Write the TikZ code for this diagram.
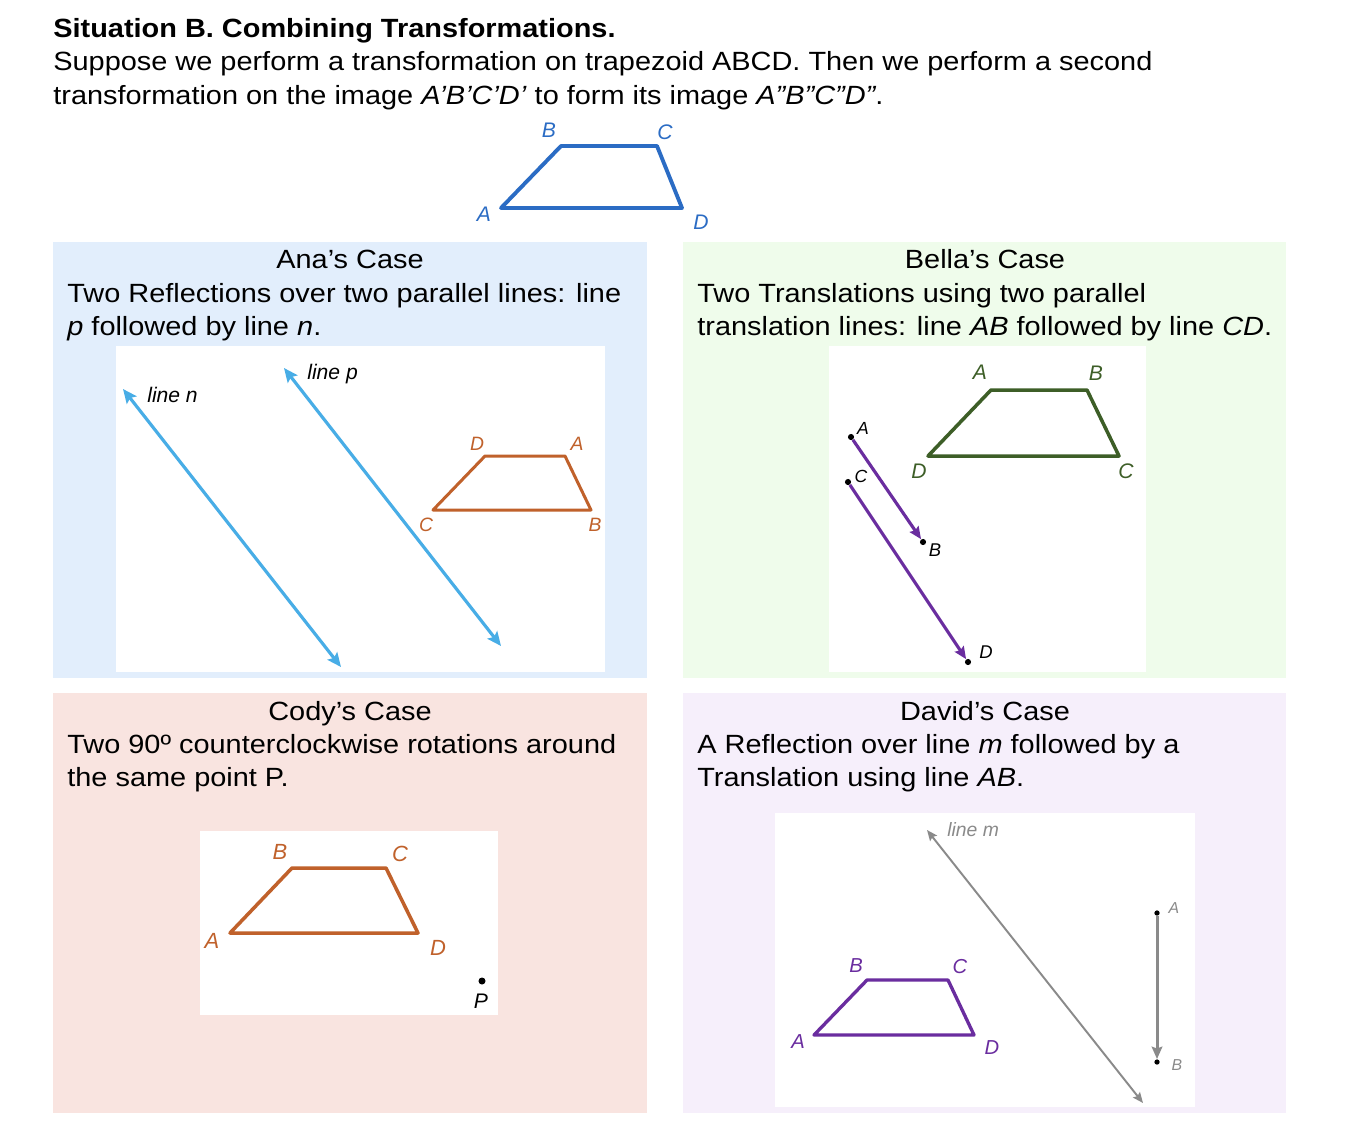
\documentclass[tikz,border=0pt]{standalone}
\usepackage{fontspec}
\setmainfont{Liberation Sans}
\newfontfamily\bodyfont[FakeStretch=1.097]{Liberation Sans}
\usetikzlibrary{arrows.meta, positioning}

\definecolor{origblue}{HTML}{2B6CC4}
\definecolor{anabg}{HTML}{E2EEFC}
\definecolor{bellabg}{HTML}{EFFCEB}
\definecolor{codybg}{HTML}{F9E4E0}
\definecolor{davidbg}{HTML}{F6EFFB}
\definecolor{skyline}{HTML}{48ADE6}
\definecolor{rust}{HTML}{C0612B}
\definecolor{leaf}{HTML}{3D5E27}
\definecolor{plum}{HTML}{6A2D9F}
\definecolor{ash}{HTML}{8A8A8A}

\begin{document}
\begin{tikzpicture}[
    x=0.02cm, y=-0.02cm,
    txt/.style = {anchor=base west, inner sep=0, font=\bodyfont\fontsize{15}{18}\selectfont},
    head/.style = {anchor=base, inner sep=0, font=\bodyfont\fontsize{15}{18}\selectfont},
    lbl/.style = {inner sep=0, font=\fontsize{11}{13}\selectfont\itshape},
    trap/.style = {line width=1.7pt, line join=round},
    dline/.style = {<->, >={Stealth[length=8pt, width=7pt, inset=1.5pt]}, line width=1.8pt},
    vec/.style = {->, >={Stealth[length=7pt, width=6pt, inset=1pt]}, line width=1.8pt},
    dot/.style = {circle, fill=black, inner sep=0, minimum size=3.5pt}
]
\useasboundingbox (0,0) rectangle (1354,1130);
\fill[white] (0,0) rectangle (1354,1130);

% Title
\node[txt, font=\bodyfont\fontsize{15}{18}\selectfont\bfseries] (title) at (53,37) {Situation B. Combining Transformations.};
\node[txt] (intro1) at (53,70) {Suppose we perform a transformation on trapezoid ABCD. Then we perform a second};
\node[txt] (intro2) at (53,104) {transformation on the image \textit{A’B’C’D’} to form its image \textit{A”B”C”D”}.};

% Original trapezoid
\coordinate (tA) at (501,208);
\coordinate (tB) at (561,146);
\coordinate (tC) at (657,146);
\coordinate (tD) at (682,208);
\draw[trap, origblue, line width=2.2pt] (tA) -- (tB) -- (tC) -- (tD) -- cycle;
\node[lbl, text=origblue, font=\fontsize{12}{14}\selectfont\itshape] (tBl) at (549,130) {B};
\node[lbl, text=origblue, font=\fontsize{12}{14}\selectfont\itshape] (tCl) at (665,132) {C};
\node[lbl, text=origblue, font=\fontsize{12}{14}\selectfont\itshape] (tAl) at (484,214) {A};
\node[lbl, text=origblue, font=\fontsize{12}{14}\selectfont\itshape] (tDl) at (701,222) {D};

% Panels
\fill[anabg] (53,242) rectangle (647,678);
\fill[bellabg] (683,242) rectangle (1286,678);
\fill[codybg] (53,693) rectangle (647,1113);
\fill[davidbg] (683,693) rectangle (1286,1113);
\fill[white] (116,346) rectangle (605,672);
\fill[white] (829,346) rectangle (1146,672);
\fill[white] (200,831) rectangle (498,1015);
\fill[white] (775,813) rectangle (1195,1107);

% Ana's case
\node[head] (anaH) at (350,268) {Ana’s Case};
\node[txt] (ana1) at (67,302) {Two Reflections over two parallel lines: line};
\node[txt] (ana2) at (67,335) {\textit{p} followed by line \textit{n}.};
\coordinate (n1) at (123,389);
\coordinate (n2) at (341,667);
\coordinate (p1) at (284,368);
\coordinate (p2) at (501,646);
\draw[dline, skyline] (n1) -- (n2);
\draw[dline, skyline] (p1) -- (p2);
\node[lbl, anchor=west, font=\fontsize{12}{14}\selectfont\itshape] (nl) at (147,395) {line n};
\node[lbl, anchor=west, font=\fontsize{12}{14}\selectfont\itshape] (pl) at (307,374) {line p};
\coordinate (aD) at (485,456);
\coordinate (aA) at (565,456);
\coordinate (aB) at (591,510);
\coordinate (aC) at (433,510);
\draw[trap, rust] (aD) -- (aA) -- (aB) -- (aC) -- cycle;
\node[lbl, text=rust] (aDl) at (477,444) {D};
\node[lbl, text=rust] (aAl) at (577,444) {A};
\node[lbl, text=rust] (aCl) at (426,525) {C};
\node[lbl, text=rust] (aBl) at (595,525) {B};

% Bella's case
\node[head] (bellaH) at (985,268) {Bella’s Case};
\node[txt] (bella1) at (697,302) {Two Translations using two parallel};
\node[txt] (bella2) at (697,335) {translation lines: line \textit{AB} followed by line \textit{CD}.};
\coordinate (gA) at (991,390);
\coordinate (gB) at (1087,390);
\coordinate (gC) at (1119,456);
\coordinate (gD) at (928,456);
\draw[trap, leaf, line width=2pt] (gA) -- (gB) -- (gC) -- (gD) -- cycle;
\node[lbl, text=leaf, font=\fontsize{12}{14}\selectfont\itshape] (gAl) at (980,372) {A};
\node[lbl, text=leaf, font=\fontsize{12}{14}\selectfont\itshape] (gBl) at (1096,373) {B};
\node[lbl, text=leaf, font=\fontsize{12}{14}\selectfont\itshape] (gDl) at (919,471) {D};
\node[lbl, text=leaf, font=\fontsize{12}{14}\selectfont\itshape] (gCl) at (1126,471) {C};
\node[dot] (vA) at (851,437) {};
\node[dot] (vB) at (923,542) {};
\node[dot] (vC) at (848,482) {};
\node[dot] (vD) at (968,662) {};
\draw[vec, plum] (vA) -- (vB);
\draw[vec, plum] (vC) -- (vD);
\node[lbl, font=\fontsize{10}{11}\selectfont\itshape] (vAl) at (863,428) {A};
\node[lbl, font=\fontsize{10}{11}\selectfont\itshape] (vCl) at (861,476) {C};
\node[lbl, font=\fontsize{10.5}{12}\selectfont\itshape] (vBl) at (935,550) {B};
\node[lbl, font=\fontsize{10.5}{12}\selectfont\itshape] (vDl) at (986,652) {D};

% Cody's case
\node[head] (codyH) at (350,720) {Cody’s Case};
\node[txt] (cody1) at (67,753) {Two 90º counterclockwise rotations around};
\node[txt] (cody2) at (67,786) {the same point P.};
\coordinate (cA) at (230,933);
\coordinate (cB) at (292,868);
\coordinate (cC) at (386,868);
\coordinate (cD) at (418,933);
\draw[trap, rust, line width=2pt] (cA) -- (cB) -- (cC) -- (cD) -- cycle;
\node[lbl, text=rust, font=\fontsize{12.5}{14}\selectfont\itshape] (cBl) at (280,852) {B};
\node[lbl, text=rust, font=\fontsize{12.5}{14}\selectfont\itshape] (cCl) at (400,854) {C};
\node[lbl, text=rust, font=\fontsize{12.5}{14}\selectfont\itshape] (cAl) at (212,941) {A};
\node[lbl, text=rust, font=\fontsize{12.5}{14}\selectfont\itshape] (cDl) at (438,948) {D};
\node[dot, minimum size=4pt] (cP) at (482,981) {};
\node[lbl, font=\fontsize{12}{14}\selectfont\itshape] (cPl) at (481,1001) {P};

% David's case
\node[head] (davidH) at (985,720) {David’s Case};
\node[txt] (david1) at (697,753) {A Reflection over line \textit{m} followed by a};
\node[txt] (david2) at (697,786) {Translation using line \textit{AB}.};
\coordinate (dA) at (814,1035);
\coordinate (dB) at (867,980);
\coordinate (dC) at (948,980);
\coordinate (dD) at (974,1035);
\draw[trap, plum, line width=1.9pt] (dA) -- (dB) -- (dC) -- (dD) -- cycle;
\node[lbl, text=plum, font=\fontsize{11.5}{13}\selectfont\itshape] (dBl) at (856,966) {B};
\node[lbl, text=plum, font=\fontsize{11.5}{13}\selectfont\itshape] (dCl) at (960,967) {C};
\node[lbl, text=plum, font=\fontsize{11.5}{13}\selectfont\itshape] (dAl) at (798,1042) {A};
\node[lbl, text=plum, font=\fontsize{11.5}{13}\selectfont\itshape] (dDl) at (992,1048) {D};
\coordinate (m1) at (927,830);
\coordinate (m2) at (1143,1103);
\draw[<->, >={Stealth[length=6pt, width=5pt, inset=1pt]}, ash, line width=1.1pt] (m1) -- (m2);
\node[lbl, anchor=west, text=ash] (ml) at (947,830) {line m};
\node[dot, minimum size=3pt] (tvA) at (1157,913) {};
\node[dot, minimum size=3pt] (tvB) at (1157,1062) {};
\draw[vec, ash, line width=1.7pt] (tvA) -- (tvB);
\node[lbl, text=ash, font=\fontsize{9}{10}\selectfont\itshape] (tvAl) at (1174,908) {A};
\node[lbl, text=ash, font=\fontsize{9}{10}\selectfont\itshape] (tvBl) at (1177,1065) {B};

\end{tikzpicture}
\end{document}
